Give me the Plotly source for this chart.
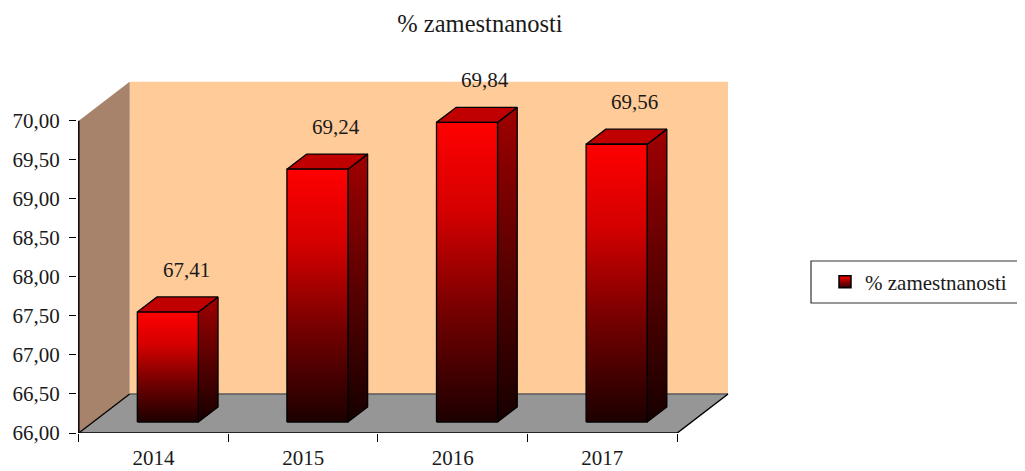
import plotly.graph_objects as go

# ---- data ----
years = ["2014", "2015", "2016", "2017"]
values = [67.41, 69.24, 69.84, 69.56]
series_name = "% zamestnanosti"
y_ticks = [66.0, 66.5, 67.0, 67.5, 68.0, 68.5, 69.0, 69.5, 70.0]

# ---- pseudo-3D geometry (axis units) ----
DX, DY = 0.34, 0.5        # depth offset of back wall
F1, F2 = 0.28, 0.667      # bar front / back depth fraction
HW = 0.204                # half bar width
Y0, YTOP = 66.0, 70.0
NCAT = len(years)

FONT = "Liberation Serif, Times New Roman, serif"
TXT = "#1a1a1a"

# page body has an 8px margin: figure is sized so the page is 1025x471
OFF = 8
W, H = 1025 - OFF, 471 - OFF

def px(x):  # page pixel -> paper x
    return (x - OFF) / W

def py(y):  # page pixel -> paper y
    return (H - (y - OFF)) / H

def fmt(v):
    return f"{v:.2f}".replace(".", ",")

fig = go.Figure()

front_scale = [[0, "#1c0000"], [0.35, "#700000"], [0.7, "#d40000"], [1, "#ff0000"]]
side_scale = [[0, "#160000"], [0.5, "#5a0000"], [1, "#a00000"]]

for i, v in enumerate(values):
    c = i + 0.5
    xl, xr = c - HW, c + HW
    b1, b2 = Y0 + F1 * DY, Y0 + F2 * DY
    t1, t2 = v + F1 * DY, v + F2 * DY
    d1, d2 = F1 * DX, F2 * DX
    # side face
    fig.add_trace(go.Scatter(
        x=[xr + d1, xr + d2, xr + d2, xr + d1, xr + d1],
        y=[b1, b2, t2, t1, b1],
        mode="lines", fill="toself",
        fillgradient=dict(type="vertical", colorscale=side_scale, start=b1, stop=t2),
        line=dict(color="black", width=1.3),
        showlegend=False, hoverinfo="skip"))
    # top face
    fig.add_trace(go.Scatter(
        x=[xl + d1, xr + d1, xr + d2, xl + d2, xl + d1],
        y=[t1, t1, t2, t2, t1],
        mode="lines", fill="toself", fillcolor="#c00000",
        line=dict(color="black", width=1.3),
        showlegend=False, hoverinfo="skip"))
    # front face
    fig.add_trace(go.Scatter(
        x=[xl + d1, xr + d1, xr + d1, xl + d1, xl + d1],
        y=[b1, b1, t1, t1, b1],
        mode="lines", fill="toself",
        fillgradient=dict(type="vertical", colorscale=front_scale, start=b1, stop=t1),
        line=dict(color="black", width=1.3),
        showlegend=False, hovertemplate=f"{years[i]}: {fmt(v)}<extra></extra>"))
    fig.add_annotation(x=c + d2 - 0.01, y=t2, yshift=27, text=fmt(v),
                       showarrow=False, font=dict(family=FONT, size=21, color=TXT))

# legend proxy
fig.add_trace(go.Scatter(
    x=[None], y=[None], mode="markers", name=series_name, xaxis="x2",
    marker=dict(symbol="square", size=12, color="#ff0000",
                gradient=dict(type="vertical", color="#300000"),
                line=dict(color="black", width=1.5))))

# walls / floor
xend = NCAT
shapes = [
    dict(type="path", path=f"M {DX},{Y0+DY} L {xend+DX},{Y0+DY} L {xend+DX},{YTOP+DY} L {DX},{YTOP+DY} Z",
         fillcolor="#ffcc99", line=dict(width=0), layer="below"),
    dict(type="path", path=f"M 0,{Y0} L {DX},{Y0+DY} L {DX},{YTOP+DY} L 0,{YTOP} Z",
         fillcolor="#a6836a", line=dict(width=0), layer="below"),
    dict(type="path", path=f"M 0,{Y0} L {xend},{Y0} L {xend+DX},{Y0+DY} L {DX},{Y0+DY} Z",
         fillcolor="#969696", line=dict(width=0), layer="below"),
    dict(type="line", x0=DX, y0=Y0 + DY, x1=xend + DX, y1=Y0 + DY,
         line=dict(color="#5a5a5a", width=1.5), layer="below"),
    dict(type="path", path=f"M 0,{Y0} L {xend},{Y0} L {xend+DX},{Y0+DY}",
         line=dict(color="black", width=1.5), layer="below"),
    dict(type="line", x0=0, y0=Y0, x1=DX, y1=Y0 + DY,
         line=dict(color="black", width=1.3), layer="below"),
    dict(type="line", x0=0, y0=Y0, x1=0, y1=YTOP,
         line=dict(color="black", width=1.5), layer="below"),
    # legend box
    dict(type="rect", xref="paper", yref="paper",
         x0=px(811), x1=px(1023), y0=py(303), y1=py(261),
         line=dict(color="#333333", width=1.2), fillcolor="white", layer="below"),
]

XR = [-0.012, 4.42]
XDOM = [px(77), px(740)]
fig.update_layout(
    width=W, height=H,
    margin=dict(l=0, r=0, t=0, b=0, autoexpand=False),
    paper_bgcolor="white", plot_bgcolor="white",
    shapes=shapes,
    title=dict(text=series_name, x=px(480), xref="paper", xanchor="center",
               y=py(23), yref="paper", yanchor="middle",
               font=dict(family=FONT, size=24.5, color=TXT)),
    font=dict(family=FONT, color=TXT),
    showlegend=True,
    legend=dict(x=px(825), xanchor="left", y=py(282), yanchor="middle",
                bgcolor="rgba(0,0,0,0)", borderwidth=0,
                font=dict(family=FONT, size=21, color=TXT)),
    xaxis=dict(domain=XDOM, range=XR, showgrid=False, zeroline=False, showline=False,
               tickmode="array", tickvals=[i + 0.5 for i in range(NCAT)], ticktext=years,
               ticks="", ticklabelstandoff=10, automargin=False,
               tickfont=dict(family=FONT, size=21, color=TXT), fixedrange=True),
    xaxis2=dict(domain=XDOM, range=XR, overlaying="x", anchor="y", side="bottom",
                showgrid=False, zeroline=False, showline=False, automargin=False,
                tickmode="array", tickvals=list(range(NCAT + 1)), showticklabels=False,
                ticks="outside", ticklen=8, tickcolor="black", tickwidth=1.3),
    yaxis=dict(domain=[py(433), py(74)], range=[66.0, 70.6], showgrid=False,
               zeroline=False, showline=False, automargin=False,
               tickmode="array", tickvals=y_ticks, ticktext=[fmt(t) for t in y_ticks],
               ticks="outside", ticklen=7, tickcolor="black", tickwidth=1.3,
               ticklabelstandoff=5,
               tickfont=dict(family=FONT, size=21, color=TXT), fixedrange=True),
)

fig.write_html("out.html")
